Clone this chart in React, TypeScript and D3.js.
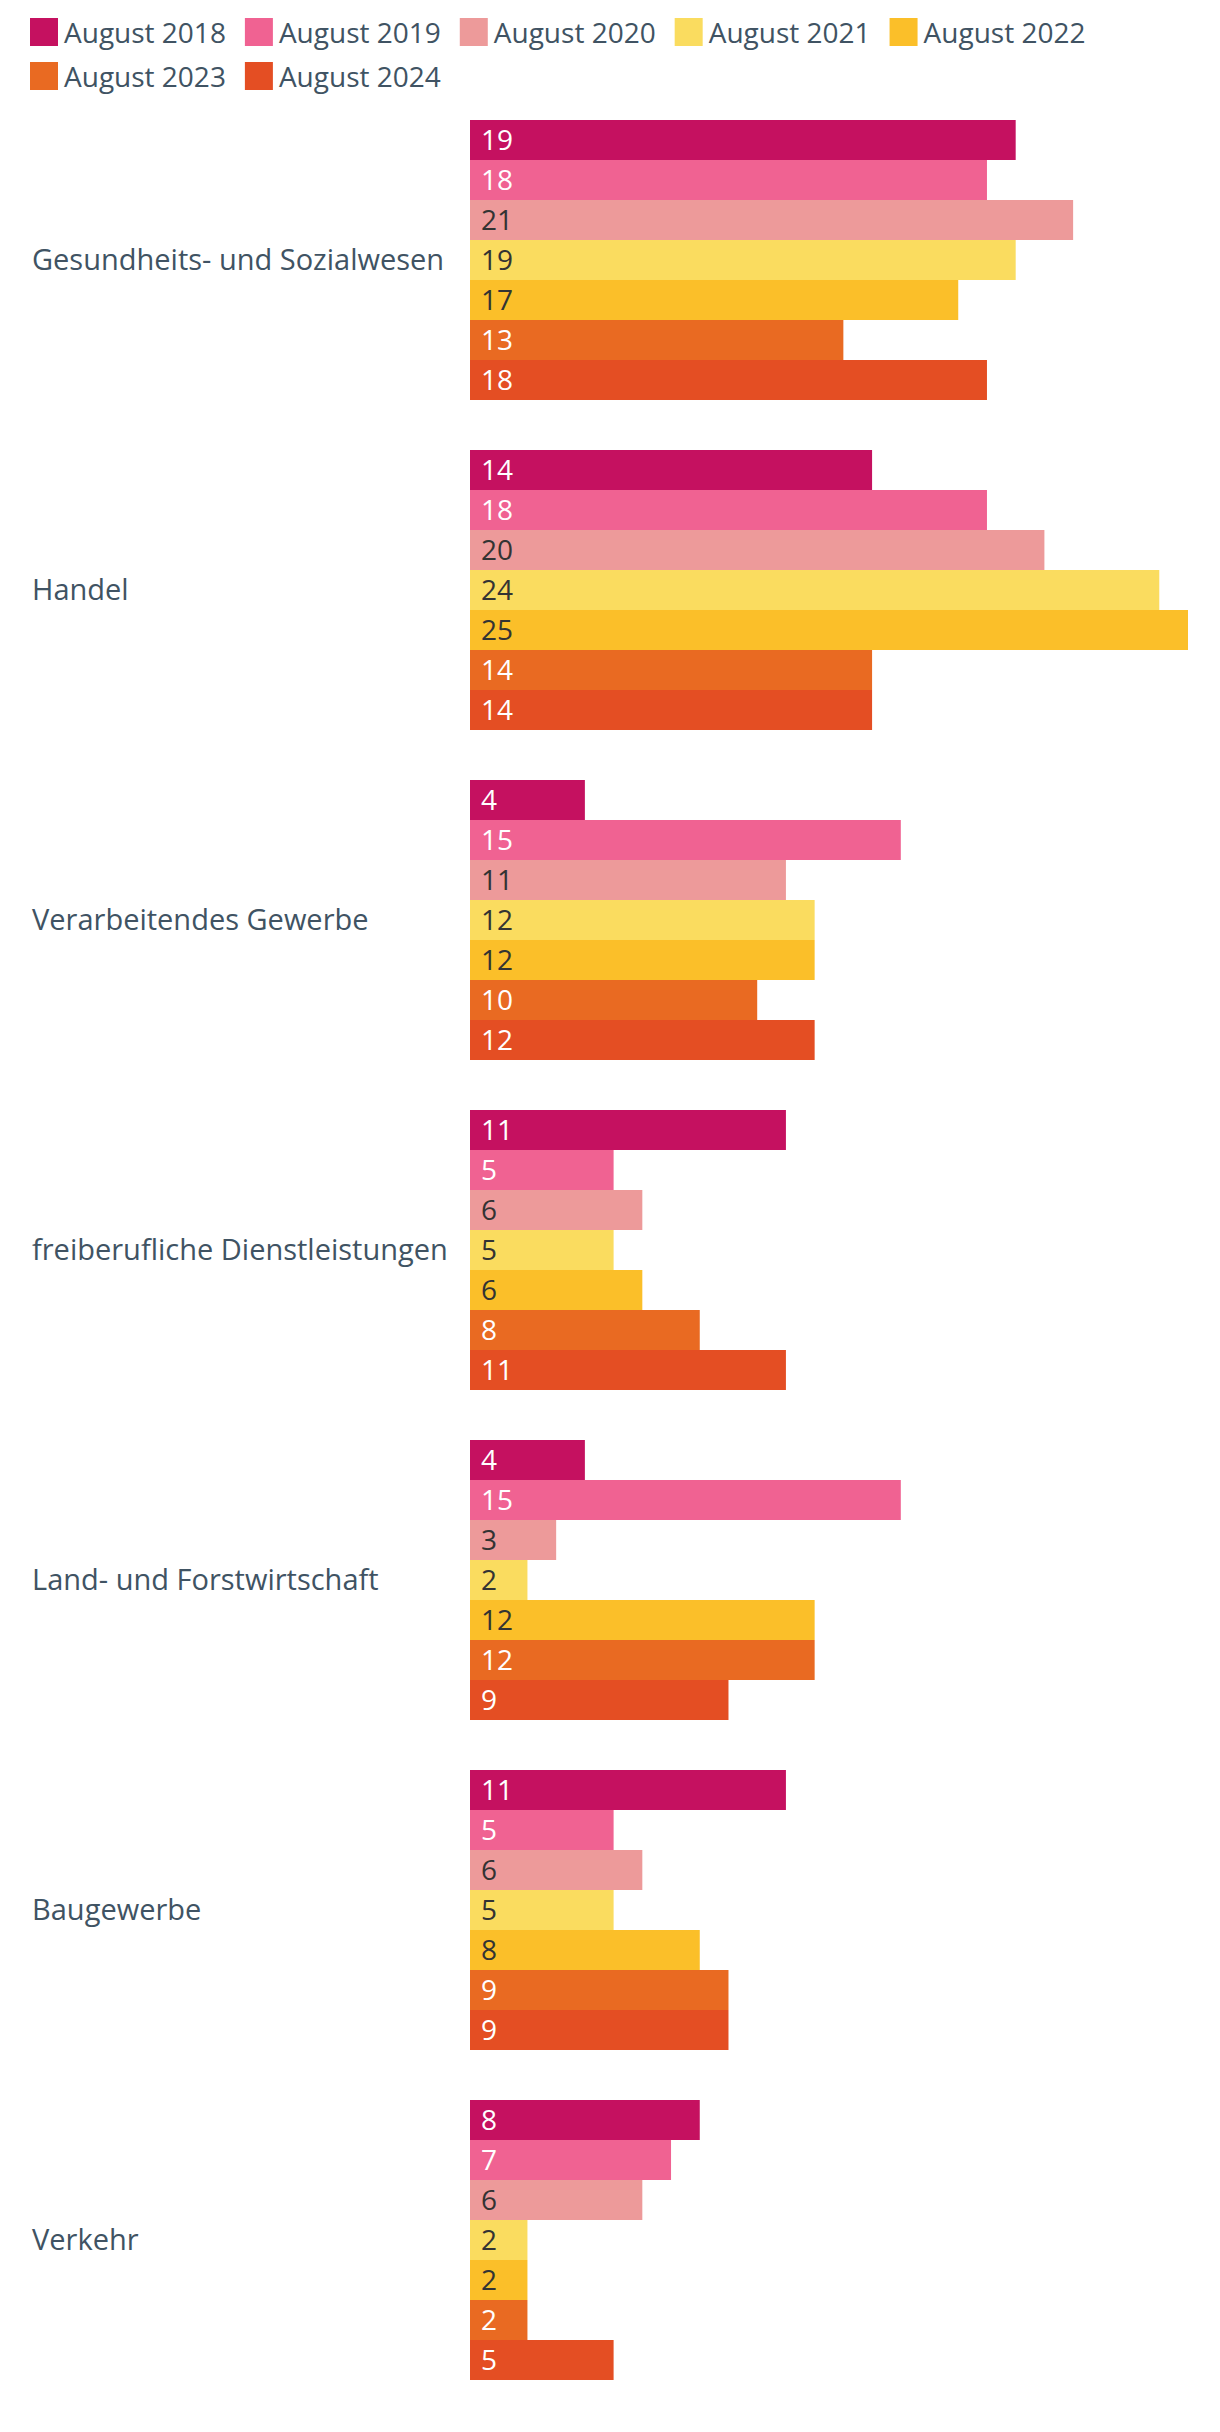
import React, { useEffect, useRef } from "react";
import * as d3 from "d3";

const categories = [
  "Gesundheits- und Sozialwesen",
  "Handel",
  "Verarbeitendes Gewerbe",
  "freiberufliche Dienstleistungen",
  "Land- und Forstwirtschaft",
  "Baugewerbe",
  "Verkehr",
];

const seriesNames = [
  "August 2018",
  "August 2019",
  "August 2020",
  "August 2021",
  "August 2022",
  "August 2023",
  "August 2024",
];

const v2018 = [19, 14, 4, 11, 4, 11, 8];
const v2019 = [18, 18, 15, 5, 15, 5, 7];
const v2020 = [21, 20, 11, 6, 3, 6, 6];
const v2021 = [19, 24, 12, 5, 2, 5, 2];
const v2022 = [17, 25, 12, 6, 12, 8, 2];
const v2023 = [13, 14, 10, 8, 12, 9, 2];
const v2024 = [18, 14, 12, 11, 9, 9, 5];

const seriesValues = [v2018, v2019, v2020, v2021, v2022, v2023, v2024];

const colors = ["#c51160", "#f06292", "#ed9a9a", "#fadc5f", "#fbbf29", "#e96a22", "#e44e23"];
const labelColors = ["#ffffff", "#ffffff", "#333333", "#333333", "#333333", "#ffffff", "#ffffff"];

const W = 1220;
const H = 2432;
const FONT = "'Open Sans', 'Noto Sans', sans-serif";
const TEXT = "#405363";

export default function App() {
  const ref = useRef<SVGSVGElement | null>(null);

  useEffect(() => {
    const svg = d3.select(ref.current);
    svg.selectAll("*").remove();

    // Legend
    const legend = svg.append("g").attr("font-family", FONT).attr("font-size", 28);
    let lx = 30;
    let row = 0;
    seriesNames.forEach((name, i) => {
      const g = legend.append("g");
      const t = g.append("text").attr("fill", TEXT).text(name);
      const tw = (t.node() as SVGTextElement).getComputedTextLength();
      if (lx + 34 + tw > W - 20) {
        row += 1;
        lx = 30;
      }
      const y0 = 18 + row * 44;
      g.append("rect")
        .attr("x", lx)
        .attr("y", y0)
        .attr("width", 28)
        .attr("height", 28)
        .attr("fill", colors[i]);
      t.attr("x", lx + 34).attr("y", y0 + 25);
      lx = lx + 34 + tw + 19;
    });

    const y = d3.scaleBand<string>().domain(categories).range([120, 2380]).paddingInner(50 / 330).paddingOuter(0);
    const ySub = d3.scaleBand<string>().domain(seriesNames).range([0, y.bandwidth()]).padding(0);
    const x = d3.scaleLinear().domain([0, 25]).range([470, 1188]);

    const groups = svg
      .append("g")
      .selectAll("g")
      .data(categories)
      .join("g")
      .attr("transform", (d) => `translate(0,${y(d)})`);

    groups
      .append("text")
      .attr("x", 32)
      .attr("y", y.bandwidth() / 2)
      .attr("dy", "0.36em")
      .attr("font-family", FONT)
      .attr("font-size", 29)
      .attr("fill", TEXT)
      .text((d) => d);

    groups.each(function (cat, ci) {
      const g = d3.select(this);
      seriesNames.forEach((s, si) => {
        const val = seriesValues[si][ci];
        g.append("rect")
          .attr("x", x(0))
          .attr("y", ySub(s)!)
          .attr("width", x(val) - x(0))
          .attr("height", ySub.bandwidth())
          .attr("fill", colors[si]);
        g.append("text")
          .attr("x", x(0) + 11)
          .attr("y", ySub(s)! + ySub.bandwidth() / 2)
          .attr("dy", "0.36em")
          .attr("font-family", FONT)
          .attr("font-size", 28)
          .attr("fill", labelColors[si])
          .text(String(val));
      });
    });
  }, []);

  return (
    <svg
      ref={ref}
      width={W}
      height={H}
      style={{ position: "absolute", left: 0, top: 0, background: "#fff" }}
    />
  );
}
